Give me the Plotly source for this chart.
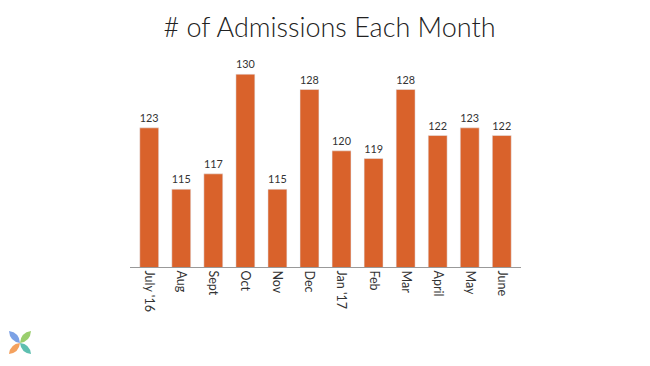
import plotly.graph_objects as go

months = ["July '16", "Aug", "Sept", "Oct", "Nov", "Dec", "Jan '17", "Feb", "Mar", "April", "May", "June"]
admissions = [123, 115, 117, 130, 115, 128, 120, 119, 128, 122, 123, 122]

W, H = 650, 366
OFF = 8  # page body margin offset
ML, MR, MT, MB = 130 - OFF, 129 + OFF, 60 - OFF, 99 + OFF
PW, PH = W - ML - MR, H - MT - MB

def px(x, y):
    # page pixel -> paper coordinates
    x -= OFF; y -= OFF
    return (x - ML) / PW, (H - MB - y) / PH

fig = go.Figure(go.Bar(
    x=months, y=admissions,
    marker_color="#D9622B", width=0.59,
    text=admissions, textposition="outside",
    textfont=dict(size=12, color="#333333", family="Lato"),
    cliponaxis=False,
))

# decorative logo (four petals)
cx, cy = 20, 343
petals = [((-11, -12), "rgba(80,130,220,0.75)"), ((11, -12), "rgba(120,190,60,0.75)"),
          ((-11, 11), "rgba(240,130,40,0.75)"), ((11, 11), "rgba(40,170,150,0.75)")]
for (dx, dy), col in petals:
    ex, ey = cx + dx, cy + dy
    mx, my = cx + dx / 2, cy + dy / 2
    nx, ny = -dy * 0.4, dx * 0.4
    p0 = px(cx, cy); p1 = px(mx + nx, my + ny); p2 = px(ex, ey); p3 = px(mx - nx, my - ny)
    path = f"M {p0[0]},{p0[1]} Q {p1[0]},{p1[1]} {p2[0]},{p2[1]} Q {p3[0]},{p3[1]} {p0[0]},{p0[1]} Z"
    fig.add_shape(type="path", path=path, xref="paper", yref="paper",
                  fillcolor=col, line=dict(width=0), layer="above")

fig.update_layout(
    width=W, height=H,
    margin=dict(l=ML, r=MR, t=MT, b=MB),
    paper_bgcolor="white", plot_bgcolor="white",
    title=dict(text="# of Admissions Each Month", x=(329.5 - OFF) / W, xanchor="center",
               y=1 - (28 - OFF) / H, yanchor="middle",
               font=dict(size=27, color="#222222", family="Lato", weight=300)),
    xaxis=dict(tickangle=90, tickfont=dict(size=12.5, color="#333333", family="Lato"),
               showline=True, linecolor="#999999", linewidth=1, ticks="",
               range=[-0.6, 11.6], showgrid=False),
    yaxis=dict(range=[104.85, 131.85], visible=False, showgrid=False),
    showlegend=False,
)

fig.write_html("out.html")
